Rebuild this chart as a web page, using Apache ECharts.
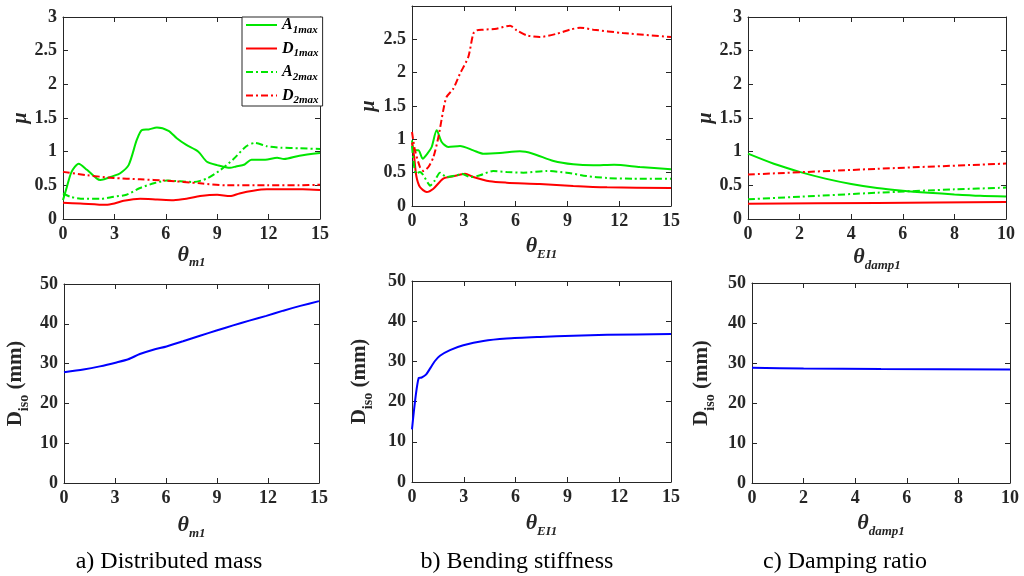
<!DOCTYPE html>
<html><head><meta charset="utf-8">
<script src="https://cdn.jsdelivr.net/npm/echarts@6/dist/echarts.min.js"></script>
<style>html,body{margin:0;padding:0;background:#fff}#c{width:1024px;height:576px}</style>
</head><body><div id="c"></div>
<script>
// ---------- data ----------
const seriesNames = ['A1max', 'D1max', 'A2max', 'D2max'];
const captions = ['a) Distributed mass', 'b) Bending stiffness', 'c) Damping ratio'];
const xNames = [['θ', 'm1'], ['θ', 'EI1'], ['θ', 'damp1']];
const xRanges = [[0, 15, 3], [0, 15, 3], [0, 10, 2]];
const muRange = [0, 3, 0.5];
const dRange = [0, 50, 10];

// a) distributed mass
const massA1 = [[0,0.28],[0.23,0.48],[0.5,0.7],[0.91,0.82],[1.4,0.73],[1.98,0.6],[2.18,0.58],[2.95,0.64],[3.34,0.68],[3.83,0.80],[4.3,1.17],[4.6,1.32],[5.0,1.33],[5.48,1.36],[6.16,1.31],[6.64,1.2],[7.2,1.1],[7.9,1.0],[8.4,0.85],[9.0,0.80],[9.75,0.76],[10.1,0.78],[10.6,0.81],[11.0,0.88],[11.8,0.88],[12.5,0.91],[12.9,0.89],[13.8,0.94],[15,0.98]];
const massD1 = [[0,0.24],[1,0.23],[2.5,0.21],[3,0.23],[3.54,0.27],[4.5,0.30],[5.5,0.29],[6.45,0.28],[7.2,0.30],[8,0.34],[9,0.36],[9.75,0.34],[10.3,0.38],[11.1,0.42],[11.9,0.44],[12.9,0.44],[14,0.44],[15,0.43]];
const massA2 = [[0,0.38],[0.43,0.33],[1.2,0.30],[2.2,0.30],[2.95,0.33],[3.7,0.36],[4.5,0.46],[5.3,0.53],[6.06,0.57],[6.84,0.56],[7.6,0.55],[8.4,0.60],[9.2,0.73],[9.95,0.89],[10.7,1.08],[11.2,1.13],[11.9,1.08],[12.7,1.06],[13.8,1.05],[15,1.04]];
const massD2 = [[0,0.70],[1.4,0.65],[2.95,0.61],[4.5,0.59],[6.06,0.57],[8,0.53],[9.56,0.50],[11.9,0.50],[13.8,0.50],[15,0.51]];
const massDiso = [[0,27.8],[1.14,28.5],[2.11,29.3],[3.09,30.3],[3.78,31.1],[4.46,32.4],[5.25,33.5],[6.03,34.3],[7.0,35.6],[8.0,37.0],[8.97,38.3],[9.95,39.6],[10.9,40.8],[11.9,42.0],[12.9,43.3],[13.9,44.5],[15,45.7]];

// b) bending stiffness
const stiffA1 = [[0,0.985],[0.12,0.835],[0.37,0.835],[0.62,0.71],[0.89,0.785],[1.14,0.885],[1.43,1.135],[1.72,0.96],[2.1,0.885],[2.78,0.9],[3.55,0.835],[4.13,0.785],[5.1,0.795],[6.25,0.82],[7.0,0.785],[8.2,0.675],[9.34,0.625],[10.5,0.61],[11.7,0.62],[13.2,0.585],[15,0.55]];
const stiffD1 = [[0,0.95],[0.12,0.75],[0.25,0.45],[0.46,0.285],[0.85,0.21],[1.24,0.26],[1.81,0.41],[2.39,0.445],[3.07,0.485],[3.55,0.435],[4.5,0.37],[5.48,0.35],[7.4,0.33],[9.34,0.30],[11.3,0.28],[15,0.27]];
const stiffA2 = [[0,0.9],[0.23,0.485],[0.46,0.51],[0.95,0.335],[1.04,0.305],[1.33,0.385],[1.62,0.5],[2.0,0.435],[2.59,0.46],[2.88,0.485],[3.36,0.435],[3.94,0.46],[4.7,0.525],[5.48,0.51],[6.45,0.5],[7.8,0.525],[8.95,0.5],[10.1,0.45],[11.3,0.42],[12.8,0.41],[15,0.41]];
const stiffD2 = [[0,1.11],[0.17,0.84],[0.46,0.585],[0.66,0.525],[0.95,0.585],[1.24,0.735],[1.53,1.035],[1.81,1.435],[2.0,1.635],[2.39,1.76],[2.78,1.985],[3.26,2.235],[3.55,2.585],[3.75,2.635],[4.13,2.645],[4.9,2.66],[5.68,2.705],[6.06,2.635],[6.64,2.56],[7.4,2.535],[8.4,2.585],[9.15,2.645],[9.73,2.675],[10.5,2.645],[12.2,2.595],[15,2.535]];
const stiffDiso = [[0,13.1],[0.39,25.9],[0.56,26.0],[0.81,26.7],[1.04,28.2],[1.33,30.1],[1.62,31.4],[2.2,32.8],[2.97,34.0],[4.13,35.1],[5.48,35.7],[7.4,36.1],[9.34,36.4],[11.3,36.6],[15,36.8]];

// c) damping ratio
const dampA1 = [[0,0.97],[1,0.82],[2,0.70],[3,0.60],[4,0.52],[5,0.46],[6,0.42],[7,0.39],[8,0.365],[9,0.345],[10,0.335]];
const dampD1 = [[0,0.228],[5,0.238],[10,0.253]];
const dampA2 = [[0,0.293],[2,0.33],[5,0.39],[8,0.44],[10,0.466]];
const dampD2 = [[0,0.66],[5,0.745],[10,0.823]];
const dampDiso = [[0,28.8],[2,28.6],[5,28.5],[10,28.4]];

// ---------- styling / layout ----------
const SERIF = '"Liberation Serif", "Times New Roman", serif';
const AX = '#262626';
const GREEN = '#00e600', RED = '#ff0000', BLUE = '#0000ff';
const DASHDOT = [7, 3, 2, 3];

const topGrids = [
  {left: 63, top: 17, width: 257, height: 202, xGap: 21, yGap: 31, hideMax: false},
  {left: 412, top: 6, width: 259, height: 200, xGap: 26, yGap: 33, hideMax: true},
  {left: 748, top: 17, width: 258, height: 202, xGap: 24, yGap: 30, hideMax: false}
];
const botGrids = [
  {left: 64, top: 284, width: 255, height: 199, xGap: 28, yGap: 33},
  {left: 412, top: 281, width: 259, height: 201, xGap: 27, yGap: 37},
  {left: 752, top: 283, width: 258, height: 200, xGap: 26, yGap: 35}
];
const captionX = [169, 517, 845];

const topData = [
  [massA1, massD1, massA2, massD2],
  [stiffA1, stiffD1, stiffA2, stiffD2],
  [dampA1, dampD1, dampA2, dampD2]
];
const botData = [massDiso, stiffDiso, dampDiso];
const seriesStyle = [
  {color: GREEN, type: 'solid'},
  {color: RED, type: 'solid'},
  {color: GREEN, type: DASHDOT},
  {color: RED, type: DASHDOT}
];

const tickFont = {fontFamily: SERIF, fontWeight: 'bold', fontSize: 18, color: AX};
const thetaRich = {
  t: {fontFamily: SERIF, fontStyle: 'italic', fontWeight: 'bold', fontSize: 22, color: AX},
  s: {fontFamily: SERIF, fontStyle: 'italic', fontWeight: 'bold', fontSize: 13, color: AX, padding: [16, 0, 0, 0]}
};
const dRich = {
  t: {fontFamily: SERIF, fontWeight: 'bold', fontSize: 21, color: AX},
  s: {fontFamily: SERIF, fontWeight: 'bold', fontSize: 14, color: AX, padding: [16, 0, 0, 0]}
};
const muStyle = {fontFamily: SERIF, fontStyle: 'italic', fontWeight: 'bold', fontSize: 20, color: AX};

const grids = [], xAxes = [], yAxes = [], series = [];

function addPanel(g, xr, yr, xName, yName, yNameStyle) {
  const gi = grids.length;
  grids.push({left: g.left, top: g.top, width: g.width, height: g.height, containLabel: false});
  const common = {
    gridIndex: gi, type: 'value', splitLine: {show: false},
    axisLine: {show: true, onZero: false, lineStyle: {color: AX, width: 1}},
    axisTick: {show: true, inside: true, length: 5, lineStyle: {color: AX}}
  };
  const xi = xAxes.length;
  xAxes.push(Object.assign({}, common, {
    position: 'bottom', min: xr[0], max: xr[1], interval: xr[2],
    axisLabel: Object.assign({margin: 6}, tickFont),
    name: xName, nameLocation: 'middle', nameGap: g.xGap,
    nameTextStyle: {rich: thetaRich}
  }));
  xAxes.push(Object.assign({}, common, {
    position: 'top', min: xr[0], max: xr[1], interval: xr[2], axisLabel: {show: false}
  }));
  const yi = yAxes.length;
  yAxes.push(Object.assign({}, common, {
    position: 'left', min: yr[0], max: yr[1], interval: yr[2],
    axisLabel: Object.assign({margin: 6, showMaxLabel: !g.hideMax}, tickFont),
    name: yName, nameLocation: 'middle', nameGap: g.yGap, nameRotate: 90,
    nameTextStyle: yNameStyle
  }));
  yAxes.push(Object.assign({}, common, {
    position: 'right', min: yr[0], max: yr[1], interval: yr[2], axisLabel: {show: false}
  }));
  return {xi, yi};
}

for (let p = 0; p < 3; p++) {
  const xn = '{t|' + xNames[p][0] + '}{s|' + xNames[p][1] + '}';
  const a = addPanel(topGrids[p], xRanges[p], muRange, xn, 'μ', muStyle);
  topData[p].forEach((d, k) => {
    series.push({
      type: 'line', name: seriesNames[k], data: d, xAxisIndex: a.xi, yAxisIndex: a.yi,
      symbol: 'none', smooth: 0.25, silent: true,
      lineStyle: {color: seriesStyle[k].color, width: 2, type: seriesStyle[k].type},
      itemStyle: {color: seriesStyle[k].color}
    });
  });
}
for (let p = 0; p < 3; p++) {
  const xn = '{t|' + xNames[p][0] + '}{s|' + xNames[p][1] + '}';
  const b = addPanel(botGrids[p], xRanges[p], dRange, xn, '{t|D}{s|iso}{t| (mm)}', {rich: dRich});
  series.push({
    type: 'line', name: 'Diso', data: botData[p], xAxisIndex: b.xi, yAxisIndex: b.yi,
    symbol: 'none', smooth: 0.25, silent: true,
    lineStyle: {color: BLUE, width: 2}
  });
}

const legendRich = {
  a: {fontFamily: SERIF, fontStyle: 'italic', fontWeight: 'bold', fontSize: 16, color: '#000'},
  b: {fontFamily: SERIF, fontStyle: 'italic', fontWeight: 'bold', fontSize: 11, color: '#000', padding: [10, 0, 0, 0]}
};

const option = {
  animation: false,
  backgroundColor: '#fff',
  grid: grids, xAxis: xAxes, yAxis: yAxes, series: series,
  legend: {
    data: seriesNames, orient: 'vertical', left: 242, top: 17,
    itemWidth: 31, itemHeight: 18, itemGap: 5, itemTextGap: 1,
    padding: [0, 4, 0, 3],
    itemStyle: {opacity: 0},
    backgroundColor: '#fff', borderColor: AX, borderWidth: 1, borderRadius: 0,
    selectedMode: false,
    formatter: n => '{a|' + n.charAt(0) + '}{b|' + n.slice(1) + '}',
    textStyle: {rich: legendRich}
  },
  graphic: captions.map((c, i) => ({
    type: 'text', x: captionX[i], y: 562, silent: true,
    style: {text: c, fill: '#000', font: '24px ' + SERIF, textAlign: 'center', textVerticalAlign: 'middle'}
  }))
};

const chart = echarts.init(document.getElementById('c'), null, {renderer: 'canvas'});
chart.setOption(option);
</script>
</body></html>
